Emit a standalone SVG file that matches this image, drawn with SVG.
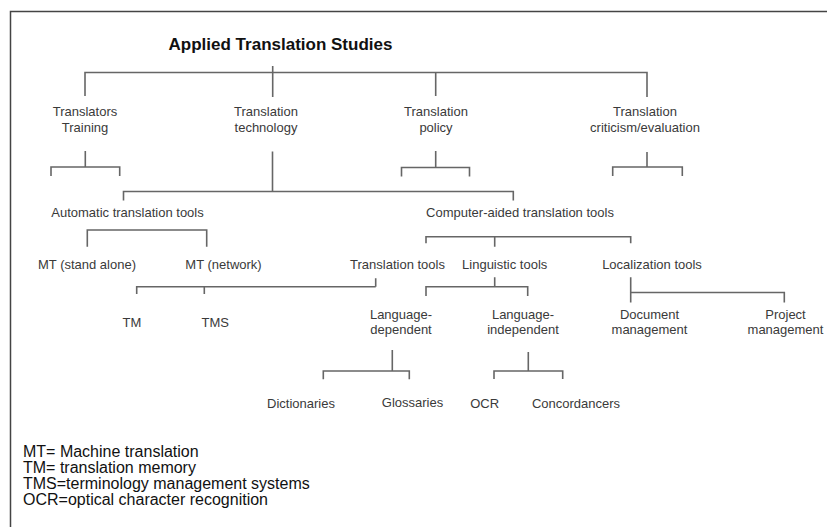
<svg xmlns="http://www.w3.org/2000/svg" width="827" height="527" viewBox="0 0 827 527">
<style>
.lbl{font-family:"Liberation Sans",Arial,sans-serif;font-size:13px;fill:#3a3a3a;text-anchor:middle}
.title{font-family:"Liberation Sans",Arial,sans-serif;font-size:17px;font-weight:bold;fill:#111;text-anchor:middle}
.leg{font-family:"Liberation Sans",Arial,sans-serif;font-size:16px;fill:#111}
.c path{fill:none;stroke:#666;stroke-width:1.6}
</style>
<rect width="827" height="527" fill="#fff"/>
<path d="M10.5,527 V11.5 H827" fill="none" stroke="#444" stroke-width="1.5"/>
<g id="title"><text class="title" x="280.5" y="50">Applied Translation Studies</text></g>
<g id="n_training"><text class="lbl" x="85" y="116">Translators</text><text class="lbl" x="85" y="131.5">Training</text></g>
<g id="n_technology"><text class="lbl" x="266" y="116">Translation</text><text class="lbl" x="266" y="131.5">technology</text></g>
<g id="n_policy"><text class="lbl" x="436" y="116">Translation</text><text class="lbl" x="436" y="131.5">policy</text></g>
<g id="n_criticism"><text class="lbl" x="645" y="116">Translation</text><text class="lbl" x="645" y="131.5">criticism/evaluation</text></g>
<g id="n_auto"><text class="lbl" x="127.5" y="216.5">Automatic translation tools</text></g>
<g id="n_cat"><text class="lbl" x="520" y="216.5">Computer-aided translation tools</text></g>
<g id="n_mt_standalone"><text class="lbl" x="87" y="268.5">MT (stand alone)</text></g>
<g id="n_mt_network"><text class="lbl" x="223.5" y="268.5">MT (network)</text></g>
<g id="n_translation_tools"><text class="lbl" x="397.5" y="268.5">Translation tools</text></g>
<g id="n_linguistic"><text class="lbl" x="504.7" y="268.5">Linguistic tools</text></g>
<g id="n_localization"><text class="lbl" x="652" y="268.5">Localization tools</text></g>
<g id="n_tm"><text class="lbl" x="132" y="326.5">TM</text></g>
<g id="n_tms"><text class="lbl" x="215.3" y="326.5">TMS</text></g>
<g id="n_lang_dep"><text class="lbl" x="401" y="318.5">Language-</text><text class="lbl" x="401" y="334">dependent</text></g>
<g id="n_lang_indep"><text class="lbl" x="523" y="318.5">Language-</text><text class="lbl" x="523" y="334">independent</text></g>
<g id="n_document"><text class="lbl" x="649.5" y="318.5">Document</text><text class="lbl" x="649.5" y="334">management</text></g>
<g id="n_project"><text class="lbl" x="785.5" y="318.5">Project</text><text class="lbl" x="785.5" y="334">management</text></g>
<g id="n_dictionaries"><text class="lbl" x="301" y="407.5">Dictionaries</text></g>
<g id="n_glossaries"><text class="lbl" x="412.5" y="406.5">Glossaries</text></g>
<g id="n_ocr"><text class="lbl" x="484.7" y="407.5">OCR</text></g>
<g id="n_concordancers"><text class="lbl" x="576" y="407.5">Concordancers</text></g>
<g id="legend">
<text class="leg" x="23" y="457">MT= Machine translation</text>
<text class="leg" x="23" y="473">TM= translation memory</text>
<text class="leg" x="23" y="489">TMS=terminology management systems</text>
<text class="leg" x="23" y="505">OCR=optical character recognition</text>
</g>
<g id="connectors" class="c">
<path d="M272.7,66 V97 M85,96 V72.5 H647 V97 M435.7,72.5 V96"/>
<path d="M85.3,151 V167 M51,176 V167 H119.7 V176"/>
<path d="M435.7,151 V167.5 M401.5,176.5 V167.5 H469.5 V176.5"/>
<path d="M647,152 V167 M612.7,176 V167 H682.3 V176"/>
<path d="M272.5,151.5 V191.5 M123.5,200.5 V191.5 H513.3 V200.5"/>
<path d="M87.3,246.7 V230 H206.7 V246.7"/>
<path d="M426,243.3 V236.7 H630.7 V243.3 M494.7,236.7 V246.7"/>
<path d="M375.7,278.3 V286.7 M136.7,294 V286.7 H375.7 M204.3,286.7 V294"/>
<path d="M494.7,277.3 V286.7 M426,296 V286.7 H527.7 V296"/>
<path d="M630.7,277.3 V302.5 M630.7,292.5 H784.3 V302.5"/>
<path d="M392.3,350 V371 M323.3,379.3 V371 H409.3 V379.3"/>
<path d="M528.3,352 V371 M494,379 V371 H562.7 V379"/>
</g>
</svg>
